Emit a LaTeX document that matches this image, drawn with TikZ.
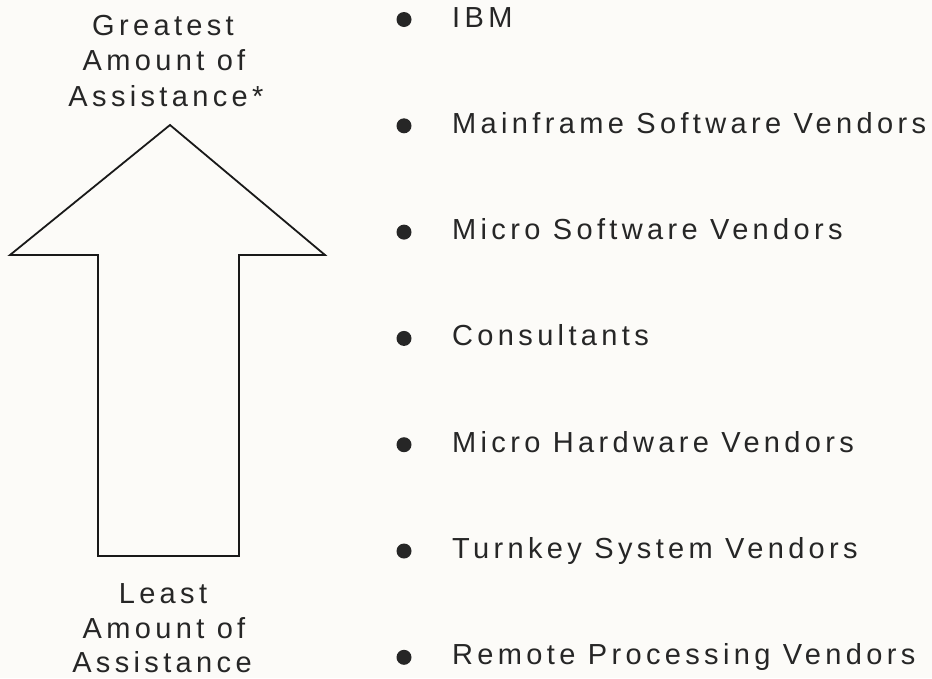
\documentclass[tikz,border=0pt]{standalone}
\usepackage{fontspec}
\setmainfont{Liberation Sans}[LetterSpace=15]
\definecolor{ink}{HTML}{262626}
\definecolor{paper}{HTML}{FCFBF8}
\begin{document}
\begin{tikzpicture}[x=1pt,y=-1pt,
  lbl/.style={anchor=base,inner sep=0pt,text=ink,font=\fontsize{29}{35}\selectfont},
  item/.style={anchor=base west,inner sep=0pt,text=ink,font=\fontsize{29}{35}\selectfont},
  dot/.style={circle,fill=ink,inner sep=0pt,minimum size=15pt},
  outline/.style={draw=black!90,line width=1.8pt,line join=miter}]
  \fill[paper] (0,0) rectangle (932,678);
  \useasboundingbox (0,0) rectangle (932,678);

  % upward arrow
  \draw[outline] (98,556) -- (98,255) -- (10,255) -- (170,125) -- (325,255)
    -- (239,255) -- (239,556) -- cycle;

  % labels above and below the arrow
  \node[lbl] (g1) at (163,35) {Greatest};
  \node[lbl] (g2) at (164,70) {Amount of};
  \node[lbl] (g3) at (166,106) {Assistance*};
  \node[lbl] (l1) at (163,603) {Least};
  \node[lbl] (l2) at (164,638) {Amount of};
  \node[lbl] (l3) at (162,672) {Assistance};

  % bulleted list of sources
  \foreach \t [count=\i from 0] in {IBM,Mainframe Software Vendors,Micro Software Vendors,Consultants,Micro Hardware Vendors,Turnkey System Vendors,Remote Processing Vendors}{
    \pgfmathsetmacro{\yb}{27+106.3*\i}
    \node[dot] (b\i) at (404,\yb-7.5) {};
    \node[item] (t\i) at (452,\yb) {\t};
  }
\end{tikzpicture}
\end{document}
